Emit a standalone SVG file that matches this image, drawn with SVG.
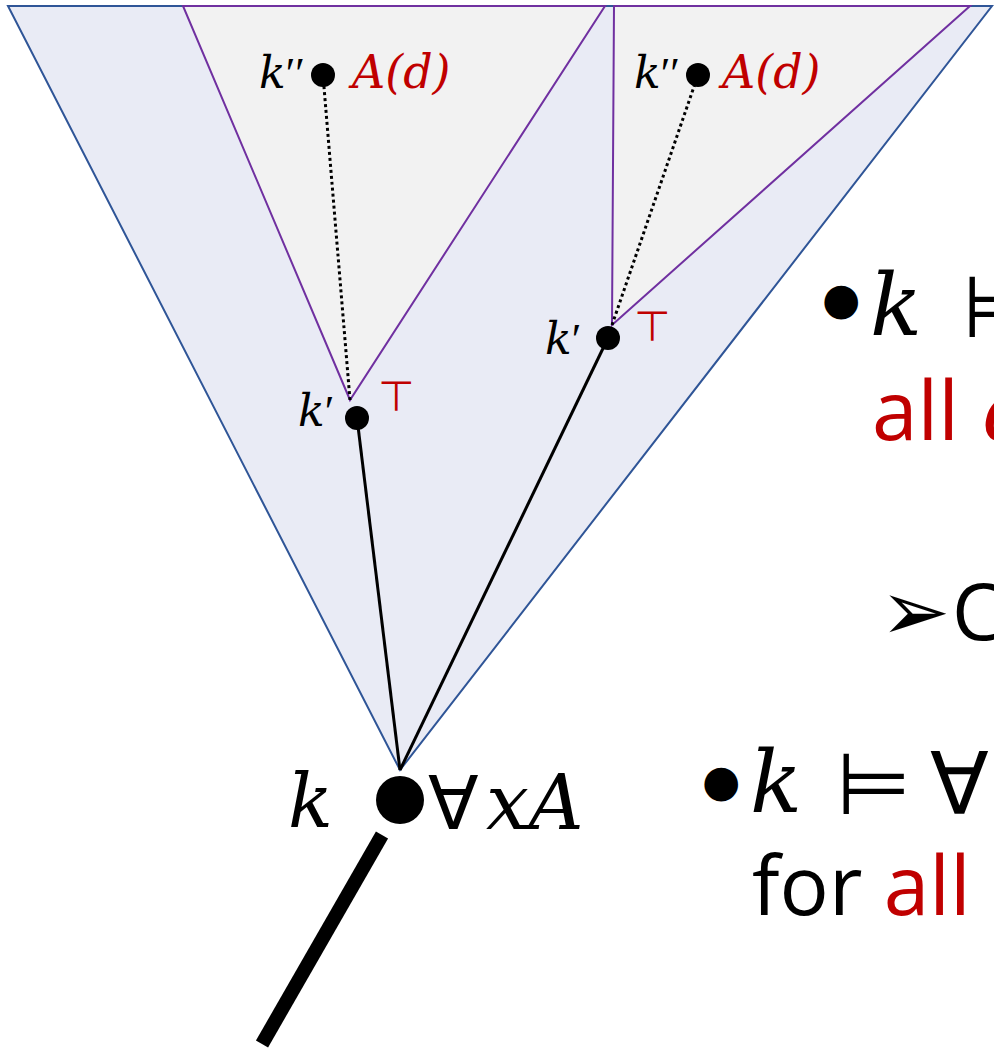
<svg xmlns="http://www.w3.org/2000/svg" width="994" height="1048" viewBox="0 0 994 1048">
<style>
.m{font-family:"DejaVu Serif","Liberation Serif",serif;font-style:italic}
.p{font-family:"Liberation Serif",serif;font-style:normal}
.u{font-family:"DejaVu Sans","Liberation Sans",sans-serif}
.s{font-family:"Open Sans","Liberation Sans",sans-serif}
.r{fill:#C00000}
</style>
<rect width="994" height="1048" fill="#fff"/>
<g id="outer-cone"><polygon points="8,6 992,6 400,770" fill="#E9EBF5" stroke="#2F5597" stroke-width="2"/></g>
<g id="left-cone"><polygon points="183,6 605,6 350,400" fill="#F2F2F2" stroke="#7030A0" stroke-width="2"/></g>
<g id="right-cone"><polygon points="614,6 970,6 612,325" fill="#F2F2F2" stroke="#7030A0" stroke-width="2"/></g>
<g id="connectors" stroke="#000" fill="none">
<line x1="400" y1="770" x2="357" y2="418" stroke-width="3"/>
<line x1="400" y1="770" x2="608" y2="338" stroke-width="3"/>
<line x1="350" y1="400" x2="323" y2="75" stroke-width="3" stroke-dasharray="3,3"/>
<line x1="612" y1="325" x2="698" y2="75" stroke-width="3" stroke-dasharray="3,3"/>
<line x1="382" y1="835" x2="262" y2="1044" stroke-width="14"/>
</g>
<g id="k2-left"><circle cx="323" cy="75" r="12"/><text x="259" y="88" class="m" font-size="44">k<tspan class="p">′′</tspan></text><text x="352" y="88" class="m r" font-size="46">A(d)</text></g>
<g id="k2-right"><circle cx="698" cy="75" r="12"/><text x="634" y="88" class="m" font-size="44">k<tspan class="p">′′</tspan></text><text x="722" y="88" class="m r" font-size="46">A(d)</text></g>
<g id="k1-left"><circle cx="357" cy="418" r="12"/><text x="298" y="426" class="m" font-size="44">k<tspan class="p">′</tspan></text><text x="378" y="411" class="u r" font-size="42">⊤</text></g>
<g id="k1-right"><circle cx="608" cy="338" r="12"/><text x="634" y="341" class="u r" font-size="42">⊤</text><text x="545" y="354" class="m" font-size="44">k<tspan class="p">′</tspan></text></g>
<g id="k-root"><circle cx="400" cy="800" r="24"/><text x="288" y="827" class="m" font-size="74">k</text><text x="428" y="829" class="u" font-size="74">∀</text><text x="486" y="829" class="m" font-size="76">xA</text></g>
<g id="text-right">
<text x="822" y="314" class="u" font-size="44">●</text>
<text x="870" y="335" class="m" font-size="86">k</text>
<text x="962" y="337" class="u" font-size="86">⊨</text>
<text x="872" y="440" class="s r" font-size="82">all</text>
<text x="984" y="440" class="m r" font-size="80">d</text>
<text x="880" y="640" class="u" font-size="84">➢</text>
<text x="952" y="640" class="s" font-size="78">C</text>
<text x="702" y="796" class="u" font-size="44">●</text>
<text x="750" y="812" class="m" font-size="86">k</text>
<text x="836" y="814" class="u" font-size="86">⊨</text>
<text x="930" y="814" class="u" font-size="86">∀</text>
<text x="752" y="915" class="s" font-size="82">for <tspan class="r">all</tspan></text>
</g>
</svg>
